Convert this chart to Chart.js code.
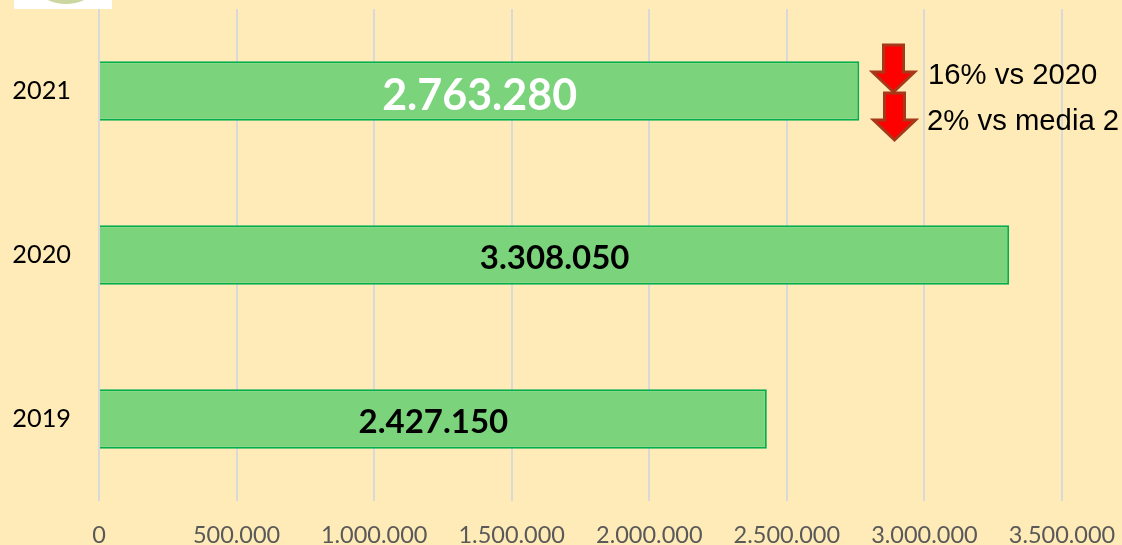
<!DOCTYPE html>
<html><head><meta charset="utf-8">
<style>html,body{margin:0;padding:0;background:#FFEBB7;overflow:hidden}canvas{display:block}</style>
<script src="https://cdn.jsdelivr.net/npm/chart.js@4"></script>
</head><body><canvas id="c" width="1122" height="545"></canvas>
<script>
const categories = ['2021', '2020', '2019'];
const values = [2763280, 3308050, 2427150];
const tickMax = 3500000;
const tickStep = 500000;
const labelColors = ['#ffffff', '#000000', '#000000'];
const labelSizes = [43, 33, 33];
const notes = ['16% vs 2020', '2% vs media 2'];
const FONT = 'Lato, Carlito, sans-serif';
const fmt = v => String(v).replace(/\B(?=(\d{3})+$)/g, '.');

function arrow(ctx, cx, top) {
  ctx.beginPath();
  ctx.moveTo(cx - 10, top); ctx.lineTo(cx + 10, top); ctx.lineTo(cx + 10, top + 27);
  ctx.lineTo(cx + 21, top + 27); ctx.lineTo(cx, top + 47); ctx.lineTo(cx - 21, top + 27);
  ctx.lineTo(cx - 10, top + 27); ctx.closePath();
  ctx.fillStyle = '#FF0000'; ctx.fill();
  ctx.lineWidth = 3; ctx.strokeStyle = '#A5391A'; ctx.lineJoin = 'miter'; ctx.stroke();
}
const zeroPad = s => { s.paddingTop = s.paddingBottom = s.paddingLeft = s.paddingRight = 0; };
const overlay = {
  id: 'overlay',
  afterDatasetsDraw(chart) {
    const ctx = chart.ctx;
    ctx.save();
    // logo remnant
    ctx.fillStyle = '#ffffff'; ctx.fillRect(14, 0, 98, 9);
    ctx.beginPath(); ctx.ellipse(66, -8, 24, 12, 0, 0, Math.PI * 2); ctx.fillStyle = '#CBD6A0'; ctx.fill();
    // value labels
    const meta = chart.getDatasetMeta(0);
    meta.data.forEach((b, i) => {
      ctx.font = 'bold ' + labelSizes[i] + 'px ' + FONT;
      ctx.fillStyle = labelColors[i];
      ctx.textAlign = 'center'; ctx.textBaseline = 'middle';
      ctx.fillText(fmt(values[i]), (b.x + b.base) / 2, b.y + (i === 0 ? 5 : 3));
    });
    // arrows and notes
    arrow(ctx, 893.5, 45);
    arrow(ctx, 894.5, 93);
    ctx.font = '29.3px "Liberation Sans", Arial, sans-serif';
    ctx.fillStyle = '#000000'; ctx.textAlign = 'left'; ctx.textBaseline = 'middle';
    ctx.fillText(notes[0], 928, 76);
    ctx.fillText(notes[1], 927, 122);
    ctx.restore();
  }
};
new Chart(document.getElementById('c'), {
  type: 'bar',
  data: { labels: categories, datasets: [{
    data: values, backgroundColor: '#7BD47B', borderColor: '#00B050', borderWidth: 2,
    categoryPercentage: 1, barPercentage: 0.362
  }]},
  plugins: [overlay],
  options: {
    indexAxis: 'y', responsive: false, animation: false,
    layout: { padding: { top: 9, right: 60, left: 0, bottom: 0 } },
    plugins: { legend: { display: false }, tooltip: { enabled: false } },
    scales: {
      x: { min: 0, max: tickMax,
        border: { display: false },
        grid: { color: '#D9D9D9', lineWidth: 2, drawTicks: false },
        afterFit: s => { s.height = 44; zeroPad(s); },
        ticks: { stepSize: tickStep, maxRotation: 0, autoSkip: false, padding: 20, color: '#595959',
          font: { family: FONT, size: 23.5 }, callback: v => fmt(v) } },
      y: { border: { display: false }, grid: { display: false, drawTicks: false },
        afterFit: s => { s.width = 99; zeroPad(s); },
        ticks: { padding: 28, color: '#000000', font: { family: FONT, size: 25.3 } } }
    }
  }
});
</script></body></html>
